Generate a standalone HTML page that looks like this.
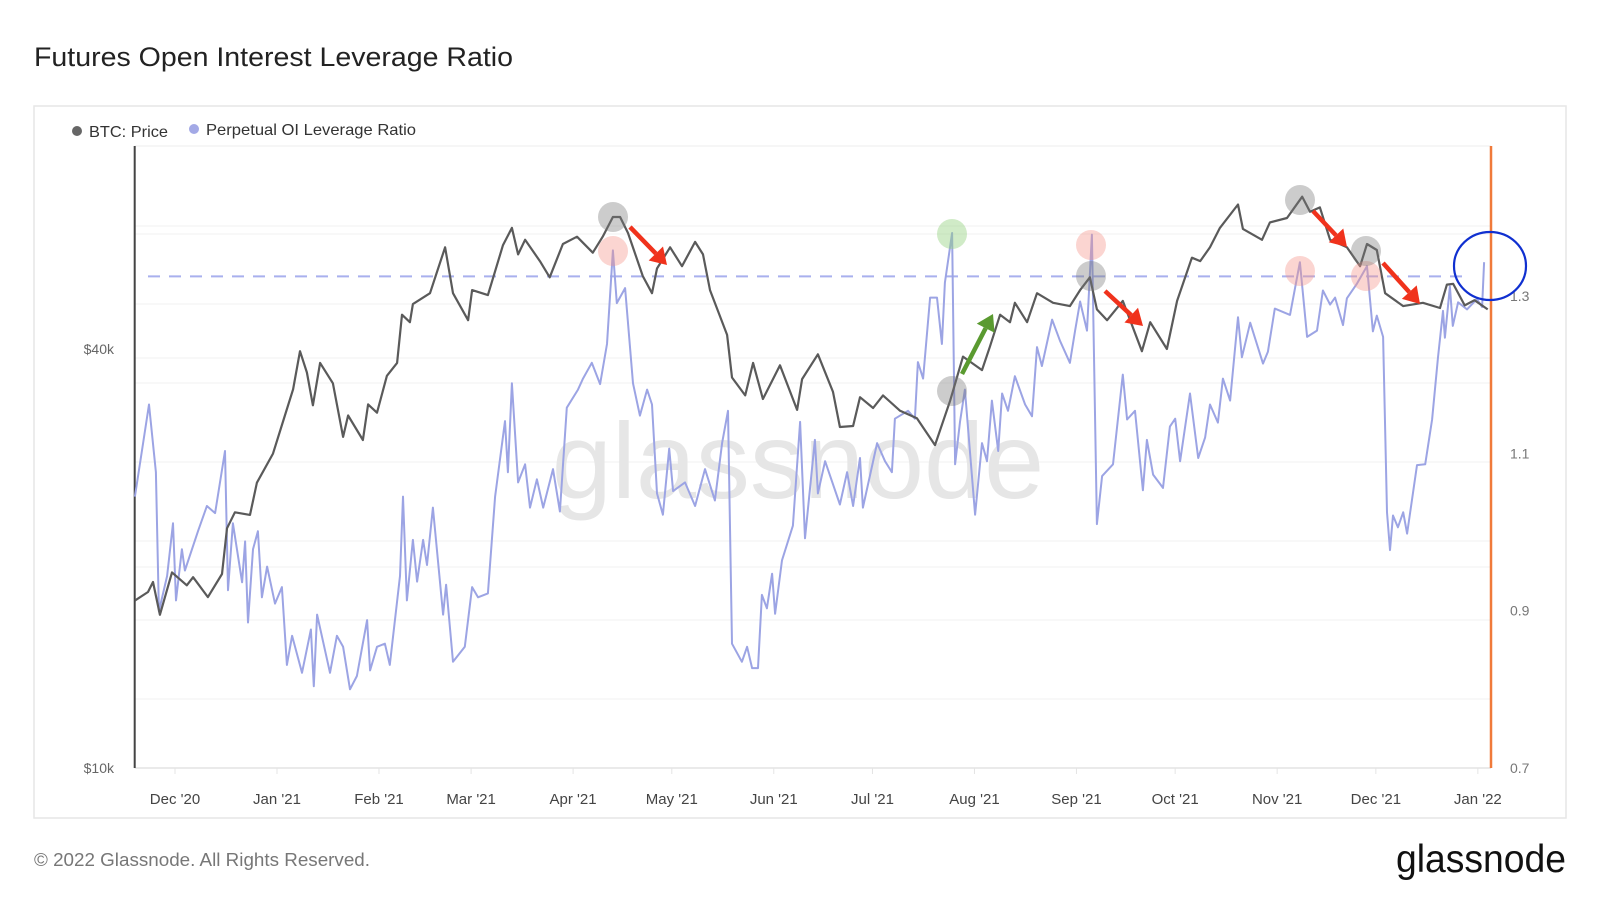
<!DOCTYPE html>
<html><head><meta charset="utf-8"><style>
html,body{margin:0;padding:0;background:#fff;}
svg{display:block;font-family:"Liberation Sans",sans-serif;}
</style></head><body>
<svg id="chart" width="1600" height="900" viewBox="0 0 1600 900" xmlns="http://www.w3.org/2000/svg">
<text x="34" y="66" font-size="27" fill="#222" textLength="479" lengthAdjust="spacingAndGlyphs">Futures Open Interest Leverage Ratio</text>
<rect x="34" y="106" width="1532" height="712" fill="#fff" stroke="#e6e6e6" stroke-width="1.5"/>
<g>
<circle cx="77" cy="131" r="5" fill="#666"/>
<text x="89" y="137" font-size="16" fill="#333" textLength="79" lengthAdjust="spacingAndGlyphs">BTC: Price</text>
<circle cx="194" cy="129" r="5" fill="#a3a9e6"/>
<text x="206" y="135" font-size="16" fill="#333" textLength="210" lengthAdjust="spacingAndGlyphs">Perpetual OI Leverage Ratio</text>
</g>
<g id="grid"></g>
<text x="798" y="498" font-size="108" fill="#e6e6e6" text-anchor="middle">glassnode</text>
<g id="axes"></g>
<g id="series"></g>
<g id="annotations"></g>
<text x="34" y="866" font-size="18" fill="#777" textLength="336" lengthAdjust="spacingAndGlyphs">© 2022 Glassnode. All Rights Reserved.</text>
<text x="1396" y="872" font-size="39" fill="#111" textLength="170" lengthAdjust="spacingAndGlyphs">glassnode</text>
</svg>
<script>
const monthLabels=["Dec '20","Jan '21","Feb '21","Mar '21","Apr '21","May '21","Jun '21","Jul '21","Aug '21","Sep '21","Oct '21","Nov '21","Dec '21","Jan '22"];
const monthDays=[0,31,62,90,121,151,182,212,243,274,304,335,365,396];
const priceTicks=[10,40];
const priceTickLabels=["$10k","$40k"];
const ratioTicks=[0.7,0.9,1.1,1.3];
const ratioTickLabels=["0.7","0.9","1.1","1.3"];
const ratioThreshold=1.325;
const priceDays=[-12.2,-8.2,-6.7,-4.6,-0.9,3.6,5.5,10,14.3,15.8,18.2,22.8,24.9,29.8,33.4,35.9,38,40.1,41.9,44.1,48,51.1,52.6,57.1,58.7,61.4,64.4,67.5,69,71.4,72.3,77.5,82.1,84.5,89.1,90.3,95.1,99.7,102.4,104.3,106.4,110.9,113.9,117.9,122.2,127,130,133.1,135.3,137.7,142.2,145,146.5,150.5,154.1,158.1,160.5,162.6,167.8,169.3,173.3,175.7,178.7,183.9,189.1,190.6,195.4,200,202.1,206.1,208.2,212.2,215.2,220.4,225.5,231,235.6,239.5,245.3,247.7,250.8,253.8,255.3,259,262,266.9,272,275.1,278.1,280.2,283.3,288.1,293.9,296.4,301.5,304.6,309.1,311.6,314.6,317.6,323.1,324.6,330.4,332.8,338,342.6,345,348,351.1,356.2,360.2,362.3,365.3,367.8,373.3,379.3,384.5,386.6,388.5,392,395,399];
const priceK=[17.4,17.9,18.5,16.6,19.1,18.3,18.8,17.6,19.0,22.1,23.3,23.1,25.7,28.3,32.1,35.0,39.7,37.0,33.2,38.2,35.7,29.9,32.1,29.6,33.3,32.4,36.6,38.2,44.8,43.7,46.4,48.1,56.0,48.1,44.0,48.6,47.8,56.4,59.7,54.7,57.4,53.5,50.7,56.6,58.0,55.0,58.0,61.9,61.9,58.7,50.9,48.1,52.2,56.0,52.6,57.0,54.7,48.6,41.9,36.4,34.3,38.2,33.9,37.9,32.7,36.2,39.3,34.7,30.9,31.0,34.1,32.9,34.3,32.6,31.8,29.1,33.7,39.0,37.3,40.3,44.8,43.7,46.6,43.7,48.1,46.6,46.1,48.6,50.7,45.6,44.0,46.9,39.7,43.7,40.0,46.9,54.1,53.5,56.0,59.7,64.5,59.5,57.4,60.8,61.7,66.2,63.0,63.9,57.4,56.0,52.6,56.6,55.5,48.1,46.1,46.6,45.8,49.5,49.6,46.2,47.0,45.6];
const levDays=[-12.2,-9.7,-7.9,-5.8,-4.9,-2.4,-0.6,0.3,2.1,3,7,9.7,12.2,15.2,16.1,17.6,20.4,21.3,22.2,23.7,25.2,26.4,28,30.4,32.5,34,35.6,38.6,41.3,42.2,43.2,47.1,49.2,51.1,53.2,55.3,58.4,59.3,61.4,63.8,65.3,68.4,69.3,70.5,72.3,73.6,75.4,76.6,78.4,81.5,82.4,84.5,88.1,90.3,92.1,95.1,97.3,100.3,101.2,102.4,104.3,106.4,107.9,110,111.9,114.9,117,119.1,122.5,124,126.7,129.2,131.3,133.1,134.3,136.8,139.2,141.3,143.5,145,146.5,148.3,150.2,151.4,155,158.1,161.1,164.1,166.3,168.1,169.3,172.3,173.9,175.4,177.2,178.4,179.9,181.5,182.4,184.5,187.8,190,191.5,194.5,195.4,197.6,202.1,204.3,206.1,208.2,209.1,213.4,215.8,217.9,218.8,222.8,224.9,225.8,227.4,229.5,231.6,233.1,234,236.2,237.1,238.6,240.1,243.2,245.3,246.8,248.3,250.2,251.4,253.2,255.3,258.4,260.5,262,263.5,266.6,269,272,273.6,275.1,277.2,278.7,280.2,281.8,285.1,288.1,289.4,291.8,294.2,295.4,297.3,300.3,302.4,304,305.5,308.5,311,313.1,314.6,317,318.5,320.7,323.1,324.3,326.8,330.7,332.2,334.3,338.9,341.9,344.1,347.1,348.9,351.1,352.6,355,356.2,359.3,362.3,364.1,365.3,367.2,368.4,369.3,370.2,371.7,373.3,374.5,377.5,380,382.1,383.9,385.4,386,387.5,388.4,390,392.7,395.7,397.3,397.9];
const levRatio=[1.045,1.113,1.162,1.076,0.899,0.944,1.011,0.913,0.978,0.951,1.001,1.033,1.024,1.103,0.926,1.011,0.936,0.988,0.885,0.978,1.001,0.917,0.956,0.909,0.930,0.831,0.868,0.821,0.876,0.804,0.895,0.821,0.868,0.854,0.800,0.817,0.888,0.824,0.854,0.858,0.831,0.944,1.045,0.913,0.990,0.937,0.990,0.958,1.031,0.895,0.933,0.835,0.854,0.930,0.917,0.922,1.045,1.141,1.076,1.189,1.063,1.086,1.031,1.067,1.031,1.080,1.026,1.158,1.181,1.195,1.215,1.188,1.239,1.358,1.291,1.310,1.189,1.148,1.181,1.162,1.049,1.022,1.106,1.052,1.063,1.033,1.080,1.040,1.113,1.154,0.858,0.835,0.854,0.827,0.827,0.920,0.903,0.947,0.896,0.964,1.008,1.140,0.992,1.117,1.049,1.090,1.035,1.076,1.033,1.094,1.031,1.113,1.090,1.076,1.144,1.154,1.144,1.216,1.195,1.298,1.298,1.239,1.317,1.380,1.086,1.140,1.181,1.022,1.113,1.090,1.167,1.103,1.176,1.154,1.198,1.162,1.147,1.235,1.211,1.270,1.243,1.215,1.256,1.293,1.256,1.378,1.010,1.071,1.086,1.200,1.143,1.154,1.053,1.117,1.073,1.056,1.134,1.144,1.090,1.176,1.094,1.120,1.162,1.139,1.195,1.167,1.273,1.222,1.266,1.214,1.229,1.284,1.276,1.343,1.248,1.256,1.307,1.289,1.298,1.263,1.297,1.316,1.338,1.255,1.275,1.248,1.025,0.977,1.021,1.006,1.025,0.998,1.085,1.086,1.143,1.222,1.281,1.247,1.312,1.262,1.292,1.283,1.296,1.286,1.343];

const NS="http://www.w3.org/2000/svg";
const plotL=134.7, plotR=1491, plotT=146, plotB=768;
function xOf(d){return 175+d*3.29;}
function yPrice(k){return 768-Math.log10(k/10)*696;}
function yRatio(v){return 768-(v-0.7)*786.7;}
function mk(tag,attrs,parent){const e=document.createElementNS(NS,tag);for(const k in attrs)e.setAttribute(k,attrs[k]);parent.appendChild(e);return e;}

const grid=document.getElementById('grid');
const gridYs=[226,234,304,358,383,462,541,567,620,699];
mk('line',{x1:plotL,x2:plotR,y1:plotT,y2:plotT,stroke:'#eeeeee','stroke-width':1},grid);
gridYs.forEach(function(gy){
  const l=mk('line',{x1:plotL,x2:plotR,y1:gy,y2:gy,stroke:'#f0f0f0','stroke-width':1},grid);
  
  
});

const axes=document.getElementById('axes');
mk('line',{x1:plotL,x2:plotR,y1:plotB,y2:plotB,stroke:'#e4e4e4','stroke-width':1.5},axes);
const la=mk('line',{x1:plotL,x2:plotL,y1:plotT,y2:plotB,stroke:'#444','stroke-width':2},axes);


monthLabels.forEach(function(lab,i){
  const x=xOf(monthDays[i]);
  const tk=mk('line',{x1:x,x2:x,y1:plotB,y2:plotB+6,stroke:'#e4e4e4','stroke-width':1},axes);
  
  
  const t=mk('text',{x:x,y:804,'font-size':15,fill:'#444','text-anchor':'middle'},axes);
  t.textContent=lab;
  
  
});
priceTicks.forEach(function(v,i){
  const t=mk('text',{x:114,y:yPrice(v)+5,'font-size':14,fill:'#666','text-anchor':'end'},axes);
  t.textContent=priceTickLabels[i];
  
  
});
ratioTicks.forEach(function(v,i){
  const t=mk('text',{x:1510,y:yRatio(v)+5,'font-size':14,fill:'#777'},axes);
  t.textContent=ratioTickLabels[i];
  
  
});

const series=document.getElementById('series');
const dash=mk('line',{x1:148,x2:plotR-20,y1:yRatio(ratioThreshold),y2:yRatio(ratioThreshold),stroke:'#a9b0ee','stroke-width':2,'stroke-dasharray':'12 9'},series);



let lp='';
const nL=Math.min(levDays.length,levRatio.length);
for(let i=0;i<nL;i++){lp+=(i?'L':'M')+xOf(levDays[i]).toFixed(1)+','+yRatio(levRatio[i]).toFixed(1);}
const levLine=mk('path',{d:lp,fill:'none',stroke:'#9ca4e4','stroke-width':2,'stroke-linejoin':'round'},series);



let pp='';
const nP=Math.min(priceDays.length,priceK.length);
for(let i=0;i<nP;i++){pp+=(i?'L':'M')+xOf(priceDays[i]).toFixed(1)+','+yPrice(priceK[i]).toFixed(1);}
const priceLine=mk('path',{d:pp,fill:'none',stroke:'#5a5a5a','stroke-width':2.2,'stroke-linejoin':'round'},series);



const ol=mk('line',{x1:plotR,x2:plotR,y1:plotT,y2:plotB,stroke:'#f07a3a','stroke-width':2.5},series);



const ann=document.getElementById('annotations');
const grayCircles=[[613,217],[952,391],[1091,276],[1300,200],[1366,251]];
const pinkCircles=[[613,251],[1091,245],[1300,271],[1366,276]];
pinkCircles.forEach(function(c){
  const e=mk('circle',{cx:c[0],cy:c[1],r:15,fill:'rgba(245,150,140,0.4)'},ann);
  
  
});
grayCircles.forEach(function(c){
  const e=mk('circle',{cx:c[0],cy:c[1],r:15,fill:'rgba(120,120,120,0.38)'},ann);
  
  
});
const gc=mk('circle',{cx:952,cy:234,r:15,fill:'rgba(150,210,130,0.45)'},ann);



function arrow(x1,y1,x2,y2,color,name){
  const g=mk('g',{},ann);
  
  
  const dx=x2-x1,dy=y2-y1,len=Math.hypot(dx,dy),ux=dx/len,uy=dy/len;
  const hx=x2-ux*16,hy=y2-uy*16;
  mk('line',{x1:x1,y1:y1,x2:hx,y2:hy,stroke:color,'stroke-width':4.5},g);
  mk('polygon',{points:x2+','+y2+' '+(hx-uy*10)+','+(hy+ux*10)+' '+(hx+uy*10)+','+(hy-ux*10),fill:color},g);
}
arrow(630,227,667,265,'#f0321c','red-arrow');
arrow(1105,291,1143,326,'#f0321c','red-arrow');
arrow(1313,211,1347,247,'#f0321c','red-arrow');
arrow(1383,263,1420,304,'#f0321c','red-arrow');
arrow(962,374,993,314,'#5a9a30','green-arrow');

const bc=mk('ellipse',{cx:1490,cy:266,rx:36,ry:34,fill:'none',stroke:'#1030d0','stroke-width':2.2},ann);


</script>
</body></html>
